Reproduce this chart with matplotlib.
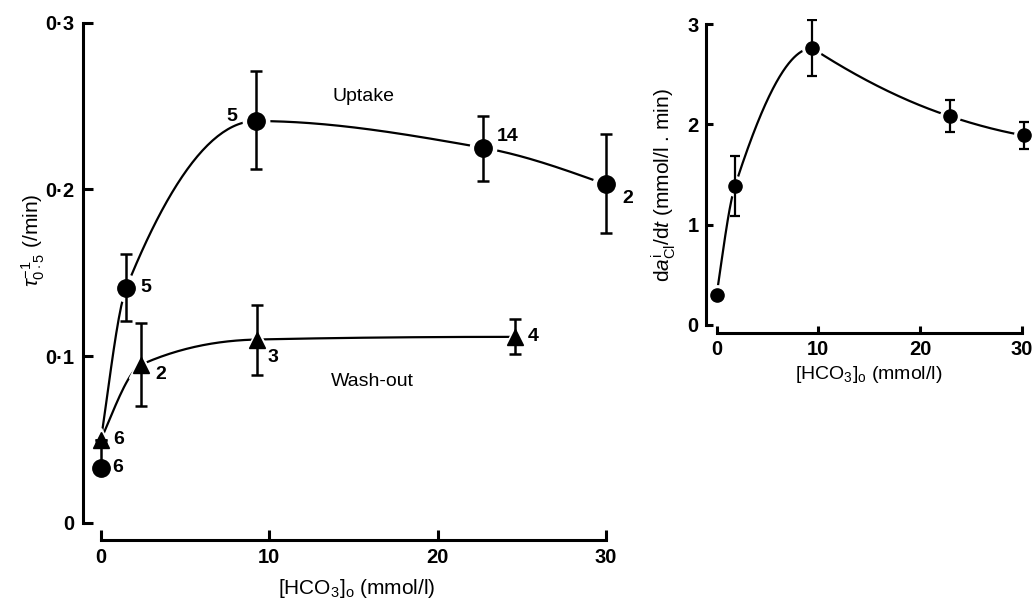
import numpy as np
import matplotlib.pyplot as plt

plt.rcParams['font.family'] = ['Liberation Sans', 'DejaVu Sans']
plt.rcParams['mathtext.fontset'] = 'custom'
plt.rcParams['mathtext.rm'] = 'Liberation Sans'
plt.rcParams['mathtext.it'] = 'Liberation Sans:italic'
plt.rcParams['mathtext.bf'] = 'Liberation Sans:bold'

# uptake (circles) and wash-out (triangles) rate constants vs [HCO3]o
hco3_uptake = [0, 1.5, 9.2, 22.7, 30]
rate_uptake = [0.033, 0.141, 0.241, 0.225, 0.203]
err_uptake_lo = [0, 0.020, 0.029, 0.020, 0.029]
err_uptake_hi = [0.015, 0.020, 0.030, 0.019, 0.030]
n_uptake = ['6', '5', '5', '14', '2']

hco3_washout = [0, 2.4, 9.25, 24.6]
rate_washout = [0.050, 0.095, 0.110, 0.1116]
err_washout = [0, 0.025, 0.021, 0.0105]
n_washout = ['6', '2', '3', '4']

# right panel: rate of change of intracellular Cl activity
hco3_cl = [0, 1.8, 9.4, 22.95, 30.2]
dacl_dt = [0.30, 1.385, 2.76, 2.08, 1.89]
err_cl = [0, 0.30, 0.28, 0.16, 0.135]

x_ticks = [0, 10, 20, 30]
tau_ticks = [0, 0.1, 0.2, 0.3]
tau_labels = ['0', '0·1', '0·2', '0·3']
cl_ticks = [0, 1, 2, 3]

# label offsets (points) for the n values
off_uptake = [(12, 0), (14, 0), (-17, 3), (18, 8), (16, -10)]
off_washout = [(13, 0), (14, -7), (12, -13), (13, 0)]


def pchip(xk, yk, num=200):
    # monotone cubic through the points
    xk = np.asarray(xk, float)
    yk = np.asarray(yk, float)
    h = np.diff(xk)
    d = np.diff(yk) / h
    m = np.zeros_like(xk)
    if len(xk) == 2:
        m[:] = d[0]
    else:
        for k in range(1, len(xk) - 1):
            if d[k - 1] * d[k] > 0:
                w1 = 2 * h[k] + h[k - 1]
                w2 = h[k] + 2 * h[k - 1]
                m[k] = (w1 + w2) / (w1 / d[k - 1] + w2 / d[k])

        def end(h0, h1, d0, d1):
            s = ((2 * h0 + h1) * d0 - h0 * d1) / (h0 + h1)
            if np.sign(s) != np.sign(d0):
                return 0.0
            if np.sign(d0) != np.sign(d1) and abs(s) > abs(3 * d0):
                return 3 * d0
            return s

        m[0] = end(h[0], h[1], d[0], d[1])
        m[-1] = end(h[-1], h[-2], d[-1], d[-2])

    xs = np.linspace(xk[0], xk[-1], num)
    idx = np.clip(np.searchsorted(xk, xs) - 1, 0, len(h) - 1)
    t = (xs - xk[idx]) / h[idx]
    h00 = 2 * t**3 - 3 * t**2 + 1
    h10 = t**3 - 2 * t**2 + t
    h01 = -2 * t**3 + 3 * t**2
    h11 = t**3 - t**2
    ys = (h00 * yk[idx] + h10 * h[idx] * m[idx] +
          h01 * yk[idx + 1] + h11 * h[idx] * m[idx + 1])
    return xs, ys


def smooth_curve(xk, yk, split_at_peak=False):
    # optionally break the curve at its maximum so each side keeps its own slope
    if not split_at_peak:
        return pchip(xk, yk)
    p = int(np.argmax(yk))
    x1, y1 = pchip(xk[:p + 1], yk[:p + 1])
    x2, y2 = pchip(xk[p:], yk[p:])
    return np.concatenate([x1, x2]), np.concatenate([y1, y2])


def style_axes(ax, xlim, ylim, ybounds):
    ax.set_xlim(*xlim)
    ax.set_ylim(*ylim)
    for s in ['top', 'right']:
        ax.spines[s].set_visible(False)
    for s in ['left', 'bottom']:
        ax.spines[s].set_linewidth(2.2)
    ax.spines['bottom'].set_bounds(0, 30)
    ax.spines['left'].set_bounds(*ybounds)


fig = plt.figure(figsize=(10.35, 6.01), dpi=100)

# ---- left panel ----
ax = fig.add_axes([0.0802, 0.1015, 0.5295, 0.8747])
style_axes(ax, (-1.07, 31.5), (-0.0102, 0.305), (0, 0.3))
ax.set_xticks(x_ticks)
ax.set_yticks(tau_ticks, tau_labels)
ax.tick_params(direction='in', length=7, width=2.2, labelsize=14.5, pad=6)
for lab in ax.get_xticklabels() + ax.get_yticklabels():
    lab.set_fontweight('bold')

ux, uy = smooth_curve([hco3_washout[0]] + hco3_uptake[1:],
                      [rate_washout[0]] + rate_uptake[1:])
wx, wy = smooth_curve(hco3_washout, rate_washout)
ax.plot(ux, uy, color='black', lw=1.6, zorder=1)
ax.plot(wx, wy, color='black', lw=1.6, zorder=1)

# white halos leave small gaps where the curves meet the symbols
ax.plot(hco3_uptake, rate_uptake, 'o', ms=19, color='white', zorder=2)
ax.plot(hco3_washout, rate_washout, '^', ms=18, color='white', zorder=2)

ax.errorbar(hco3_uptake, rate_uptake, yerr=[err_uptake_lo, err_uptake_hi],
            fmt='none', ecolor='black', elinewidth=1.8, capsize=4,
            capthick=1.8, zorder=3)
ax.plot(hco3_uptake, rate_uptake, 'o', ms=12.5, color='black', zorder=4)
ax.errorbar(hco3_washout, rate_washout, yerr=err_washout,
            fmt='none', ecolor='black', elinewidth=1.8, capsize=4,
            capthick=1.8, zorder=5)
ax.plot(hco3_washout, rate_washout, '^', ms=11, color='black', zorder=6)

for x, y, n, off in zip(hco3_uptake, rate_uptake, n_uptake, off_uptake):
    ax.annotate(n, (x, y), xytext=off, textcoords='offset points',
                ha='center', va='center', fontsize=14, fontweight='bold')
for x, y, n, off in zip(hco3_washout, rate_washout, n_washout, off_washout):
    ax.annotate(n, (x, y), xytext=off, textcoords='offset points',
                ha='center', va='center', fontsize=14, fontweight='bold')

ax.text(15.6, 0.256, 'Uptake', fontsize=14, ha='center', va='center')
ax.text(16.1, 0.085, 'Wash-out', fontsize=14, ha='center', va='center')

ax.set_xlabel(r'[HCO$_3$]$_{\rm o}$ (mmol/l)', fontsize=15)
ax.xaxis.set_label_coords(0.5, -0.07)
ax.set_ylabel(r'$\tau^{-1}_{0\cdot5}$ (/min)', fontsize=15)
ax.yaxis.set_label_coords(-0.066, 0.57)

# ---- right panel ----
ax2 = fig.add_axes([0.6818, 0.4459, 0.3153, 0.5223])
style_axes(ax2, (-1.08, 31.0), (-0.08, 3.05), (0, 3))
ax2.set_xticks(x_ticks)
ax2.set_yticks(cl_ticks)
ax2.tick_params(direction='in', length=5, width=2.2, labelsize=14.5, pad=5)
for lab in ax2.get_xticklabels() + ax2.get_yticklabels():
    lab.set_fontweight('bold')

cx, cy = smooth_curve(hco3_cl, dacl_dt, split_at_peak=True)
ax2.plot(cx, cy, color='black', lw=1.6, zorder=1)
ax2.plot(hco3_cl, dacl_dt, 'o', ms=14, color='white', zorder=2)
ax2.errorbar(hco3_cl, dacl_dt, yerr=err_cl, fmt='none', ecolor='black',
             elinewidth=1.6, capsize=3.5, capthick=1.6, zorder=3)
ax2.plot(hco3_cl, dacl_dt, 'o', ms=9.5, color='black', zorder=4)

ax2.set_xlabel(r'[HCO$_3$]$_{\rm o}$ (mmol/l)', fontsize=14)
ax2.xaxis.set_label_coords(0.5, -0.1)
ax2.set_ylabel(r'd$a^{\rm i}_{\rm Cl}$/d$t$ (mmol/l . min)', fontsize=15)
ax2.yaxis.set_label_coords(-0.085, 0.47)

fig.savefig('out.png', dpi=100)
